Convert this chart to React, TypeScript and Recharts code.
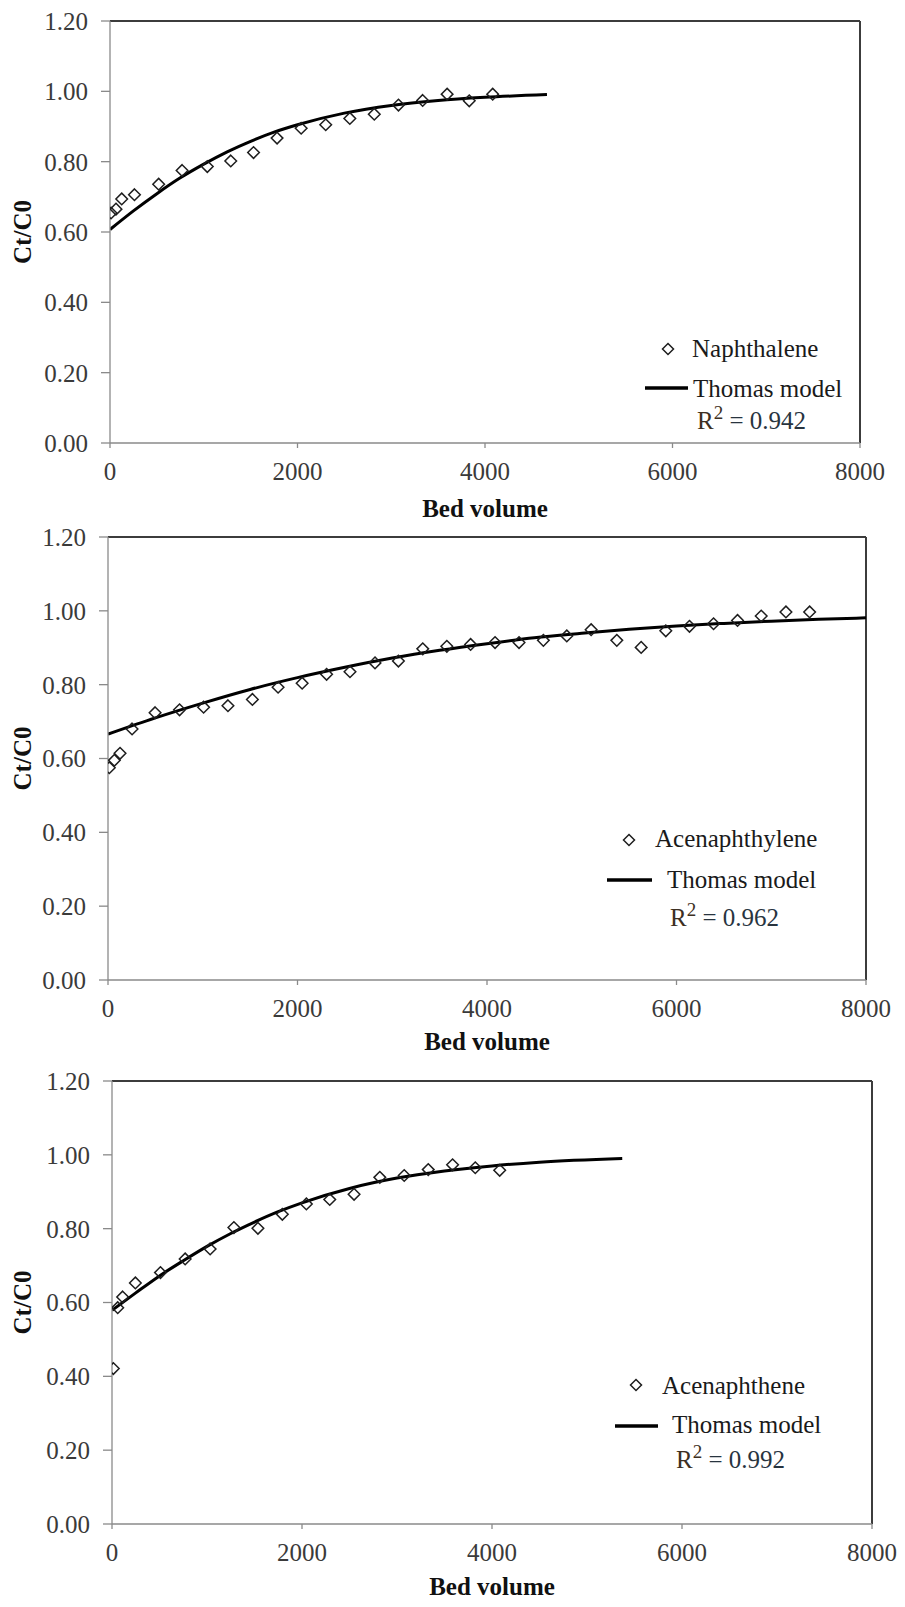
import React from 'react';
import { ComposedChart, Line, Scatter, XAxis, YAxis, ReferenceLine, Legend } from 'recharts';

const FONT = "'Liberation Serif', 'Times New Roman', Times, serif";
const AXIS_GREY = '#8a8a8a';
const BORDER = '#3c3c3c';
const TICK_TEXT = '#3a3a3a';

const xTicks = [0, 2000, 4000, 6000, 8000];
const yTicks = [0, 0.2, 0.4, 0.6, 0.8, 1.0, 1.2];
const MODEL_NAME = 'Thomas model';

// Naphthalene breakthrough
const naphBedVolume = [11, 64, 125, 261, 519, 769, 1038, 1288, 1531, 1782, 2039, 2301, 2558, 2819, 3077, 3335, 3596, 3832, 4082];
const naphRatio = [0.654, 0.665, 0.694, 0.706, 0.736, 0.775, 0.786, 0.802, 0.826, 0.867, 0.895, 0.905, 0.923, 0.935, 0.961, 0.974, 0.992, 0.973, 0.992];
const naphModelBedVolume = [0, 250, 500, 750, 1000, 1250, 1500, 1750, 2000, 2500, 3000, 3500, 4000, 4661];
const naphModelRatio = [0.607, 0.66, 0.709, 0.754, 0.793, 0.828, 0.858, 0.884, 0.905, 0.938, 0.96, 0.974, 0.983, 0.991];

// Acenaphthylene breakthrough
const acylBedVolume = [14, 67, 127, 254, 497, 755, 1009, 1266, 1524, 1795, 2049, 2307, 2554, 2818, 3065, 3322, 3576, 3827, 4085, 4338, 4595, 4842, 5099, 5370, 5627, 5887, 6137, 6391, 6644, 6894, 7155, 7405];
const acylRatio = [0.575, 0.595, 0.614, 0.68, 0.724, 0.732, 0.739, 0.743, 0.76, 0.793, 0.804, 0.828, 0.835, 0.859, 0.864, 0.897, 0.904, 0.909, 0.914, 0.914, 0.92, 0.932, 0.949, 0.92, 0.901, 0.946, 0.958, 0.965, 0.974, 0.986, 0.997, 0.997];
const acylModelBedVolume = [0, 500, 1000, 1500, 2000, 2500, 3000, 3500, 4000, 4500, 5000, 5500, 6000, 6500, 7000, 7500, 8000];
const acylModelRatio = [0.666, 0.71, 0.75, 0.787, 0.819, 0.847, 0.872, 0.893, 0.911, 0.927, 0.939, 0.95, 0.959, 0.966, 0.972, 0.977, 0.981];

// Acenaphthene breakthrough
const acenBedVolume = [14, 60, 112, 246, 510, 770, 1033, 1283, 1536, 1793, 2046, 2292, 2548, 2819, 3076, 3329, 3585, 3824, 4081];
const acenRatio = [0.421, 0.586, 0.615, 0.653, 0.681, 0.718, 0.745, 0.803, 0.801, 0.839, 0.867, 0.879, 0.893, 0.939, 0.944, 0.96, 0.973, 0.965, 0.958];
const acenModelBedVolume = [0, 250, 500, 750, 1000, 1250, 1500, 1750, 2000, 2500, 3000, 3500, 4000, 4500, 5371];
const acenModelRatio = [0.579, 0.626, 0.672, 0.713, 0.752, 0.787, 0.818, 0.846, 0.87, 0.909, 0.937, 0.956, 0.97, 0.98, 0.99];

const zip = (xs: number[], ys: number[]) => xs.map((x, i) => ({ x, y: ys[i] }));

const Diamond = (props: any) => {
  const { cx, cy } = props;
  if (cx == null || cy == null) return null;
  const r = 5.8;
  return (
    <path
      d={`M${cx},${cy - r}L${cx + r},${cy}L${cx},${cy + r}L${cx - r},${cy}Z`}
      fill="none"
      stroke="#1e1e1e"
      strokeWidth={1.5}
    />
  );
};

const XTick = (props: any) => (
  <text x={props.x} y={props.y} dy="0.71em" textAnchor="middle" fontFamily={FONT} fontSize={25} fill={TICK_TEXT}>
    {String(props.payload.value)}
  </text>
);

const YTick = (props: any) => (
  <text x={props.x} y={props.y} dy="0.355em" textAnchor="end" fontFamily={FONT} fontSize={25} fill={TICK_TEXT}>
    {Number(props.payload.value).toFixed(2)}
  </text>
);

type LegendLayout = {
  left: number;
  top: number;
  diamond: [number, number];
  nameX: number;
  nameY: number;
  line: [number, number, number];
  modelX: number;
  modelY: number;
  r2X: number;
  r2Y: number;
};

const PanelLegend = ({ name, r2, lay }: { name: string; r2: string; lay: LegendLayout }) => {
  const [dx, dy] = lay.diamond;
  const r = 5.5;
  return (
    <svg width={260} height={125} style={{ display: 'block', overflow: 'visible' }}>
      <path d={`M${dx},${dy - r}L${dx + r},${dy}L${dx},${dy + r}L${dx - r},${dy}Z`} fill="none" stroke="#1e1e1e" strokeWidth={1.5} />
      <text x={lay.nameX} y={lay.nameY} fontFamily={FONT} fontSize={25} fill="#1a1a1a">{name}</text>
      <line x1={lay.line[0]} x2={lay.line[1]} y1={lay.line[2]} y2={lay.line[2]} stroke="#000" strokeWidth={3.5} />
      <text x={lay.modelX} y={lay.modelY} fontFamily={FONT} fontSize={25} fill="#1a1a1a">{MODEL_NAME}</text>
      <text x={lay.r2X} y={lay.r2Y} fontFamily={FONT} fontSize={25}>
        <tspan fill="#3d2f22">R</tspan>
        <tspan fill="#3d2f22" fontSize={19} dy={-10}>2</tspan>
        <tspan fill="#28343f" dy={10}>{` = ${r2}`}</tspan>
      </text>
    </svg>
  );
};

type PanelProps = {
  top: number;
  height: number;
  plotTop: number;
  plotBottom: number;
  plotLeft: number;
  plotRight: number;
  titleOffset: number;
  name: string;
  r2: string;
  bedVolume: number[];
  ratio: number[];
  modelBedVolume: number[];
  modelRatio: number[];
  legend: LegendLayout;
};

const X_AXIS_H = 80;
const CHART_W = 905;

const Panel = (p: PanelProps) => {
  const points = zip(p.bedVolume, p.ratio);
  const model = zip(p.modelBedVolume, p.modelRatio);
  const margin = {
    top: p.plotTop - p.top,
    right: CHART_W - p.plotRight,
    left: 0,
    bottom: p.top + p.height - p.plotBottom - X_AXIS_H,
  };
  return (
    <div style={{ position: 'absolute', left: 0, top: p.top, width: CHART_W, height: p.height }}>
      <ComposedChart width={CHART_W} height={p.height} margin={margin} style={{ fontFamily: FONT }}>
        <XAxis
          type="number"
          dataKey="x"
          domain={[0, 8000]}
          ticks={xTicks}
          interval={0}
          height={X_AXIS_H}
          tickSize={5}
          tickMargin={14}
          axisLine={{ stroke: AXIS_GREY, strokeWidth: 1.3 }}
          tickLine={{ stroke: AXIS_GREY, strokeWidth: 1.3 }}
          tick={<XTick />}
          allowDataOverflow
          label={(lp: any) => {
            const vb = lp.viewBox;
            return (
              <text x={vb.x + vb.width / 2} y={vb.y + p.titleOffset} textAnchor="middle" fontFamily={FONT} fontSize={25} fontWeight="bold" fill="#111">
                Bed volume
              </text>
            );
          }}
        />
        <YAxis
          type="number"
          dataKey="y"
          domain={[0, 1.2]}
          ticks={yTicks}
          interval={0}
          width={p.plotLeft}
          tickSize={9}
          tickMargin={13}
          axisLine={{ stroke: AXIS_GREY, strokeWidth: 1.3 }}
          tickLine={{ stroke: AXIS_GREY, strokeWidth: 1.3 }}
          tick={<YTick />}
          allowDataOverflow
          label={(lp: any) => {
            const vb = lp.viewBox;
            const cy = vb.y + vb.height / 2;
            return (
              <text x={31} y={cy} transform={`rotate(-90, 31, ${cy})`} textAnchor="middle" fontFamily={FONT} fontSize={25} fontWeight="bold" fill="#111">
                Ct/C0
              </text>
            );
          }}
        />
        <ReferenceLine y={1.2} stroke={BORDER} strokeWidth={2} />
        <ReferenceLine x={8000} stroke={BORDER} strokeWidth={2} />
        <Line
          name={MODEL_NAME}
          data={model}
          dataKey="y"
          type="monotone"
          stroke="#000"
          strokeWidth={3}
          dot={false}
          activeDot={false}
          isAnimationActive={false}
        />
        <Scatter name={p.name} data={points} dataKey="y" shape={Diamond} isAnimationActive={false} />
        <Legend
          layout="vertical"
          align="center"
          verticalAlign="middle"
          wrapperStyle={{ left: p.legend.left, top: p.legend.top, width: 260, height: 125 }}
          content={() => <PanelLegend name={p.name} r2={p.r2} lay={p.legend} />}
        />
      </ComposedChart>
    </div>
  );
};

export default function App() {
  return (
    <div style={{ position: 'absolute', left: 0, top: 0, width: 905, height: 1607, background: '#fff' }}>
      <Panel
        top={0}
        height={530}
        plotTop={21}
        plotBottom={443}
        plotLeft={110}
        plotRight={860}
        titleOffset={74}
        name="Naphthalene"
        r2="0.942"
        bedVolume={naphBedVolume}
        ratio={naphRatio}
        modelBedVolume={naphModelBedVolume}
        modelRatio={naphModelRatio}
        legend={{ left: 640, top: 325, diamond: [28, 24], nameX: 52, nameY: 32, line: [5, 48, 63], modelX: 53, modelY: 72, r2X: 57, r2Y: 104 }}
      />
      <Panel
        top={520}
        height={540}
        plotTop={537}
        plotBottom={980}
        plotLeft={108}
        plotRight={866}
        titleOffset={70}
        name="Acenaphthylene"
        r2="0.962"
        bedVolume={acylBedVolume}
        ratio={acylRatio}
        modelBedVolume={acylModelBedVolume}
        modelRatio={acylModelRatio}
        legend={{ left: 600, top: 300, diamond: [29, 20], nameX: 55, nameY: 27, line: [7, 52, 60], modelX: 67, modelY: 68, r2X: 70, r2Y: 106 }}
      />
      <Panel
        top={1060}
        height={547}
        plotTop={1081}
        plotBottom={1524}
        plotLeft={112}
        plotRight={872}
        titleOffset={71}
        name="Acenaphthene"
        r2="0.992"
        bedVolume={acenBedVolume}
        ratio={acenRatio}
        modelBedVolume={acenModelBedVolume}
        modelRatio={acenModelRatio}
        legend={{ left: 610, top: 310, diamond: [26, 15], nameX: 52, nameY: 24, line: [5, 48, 56], modelX: 62, modelY: 63, r2X: 66, r2Y: 98 }}
      />
    </div>
  );
}
